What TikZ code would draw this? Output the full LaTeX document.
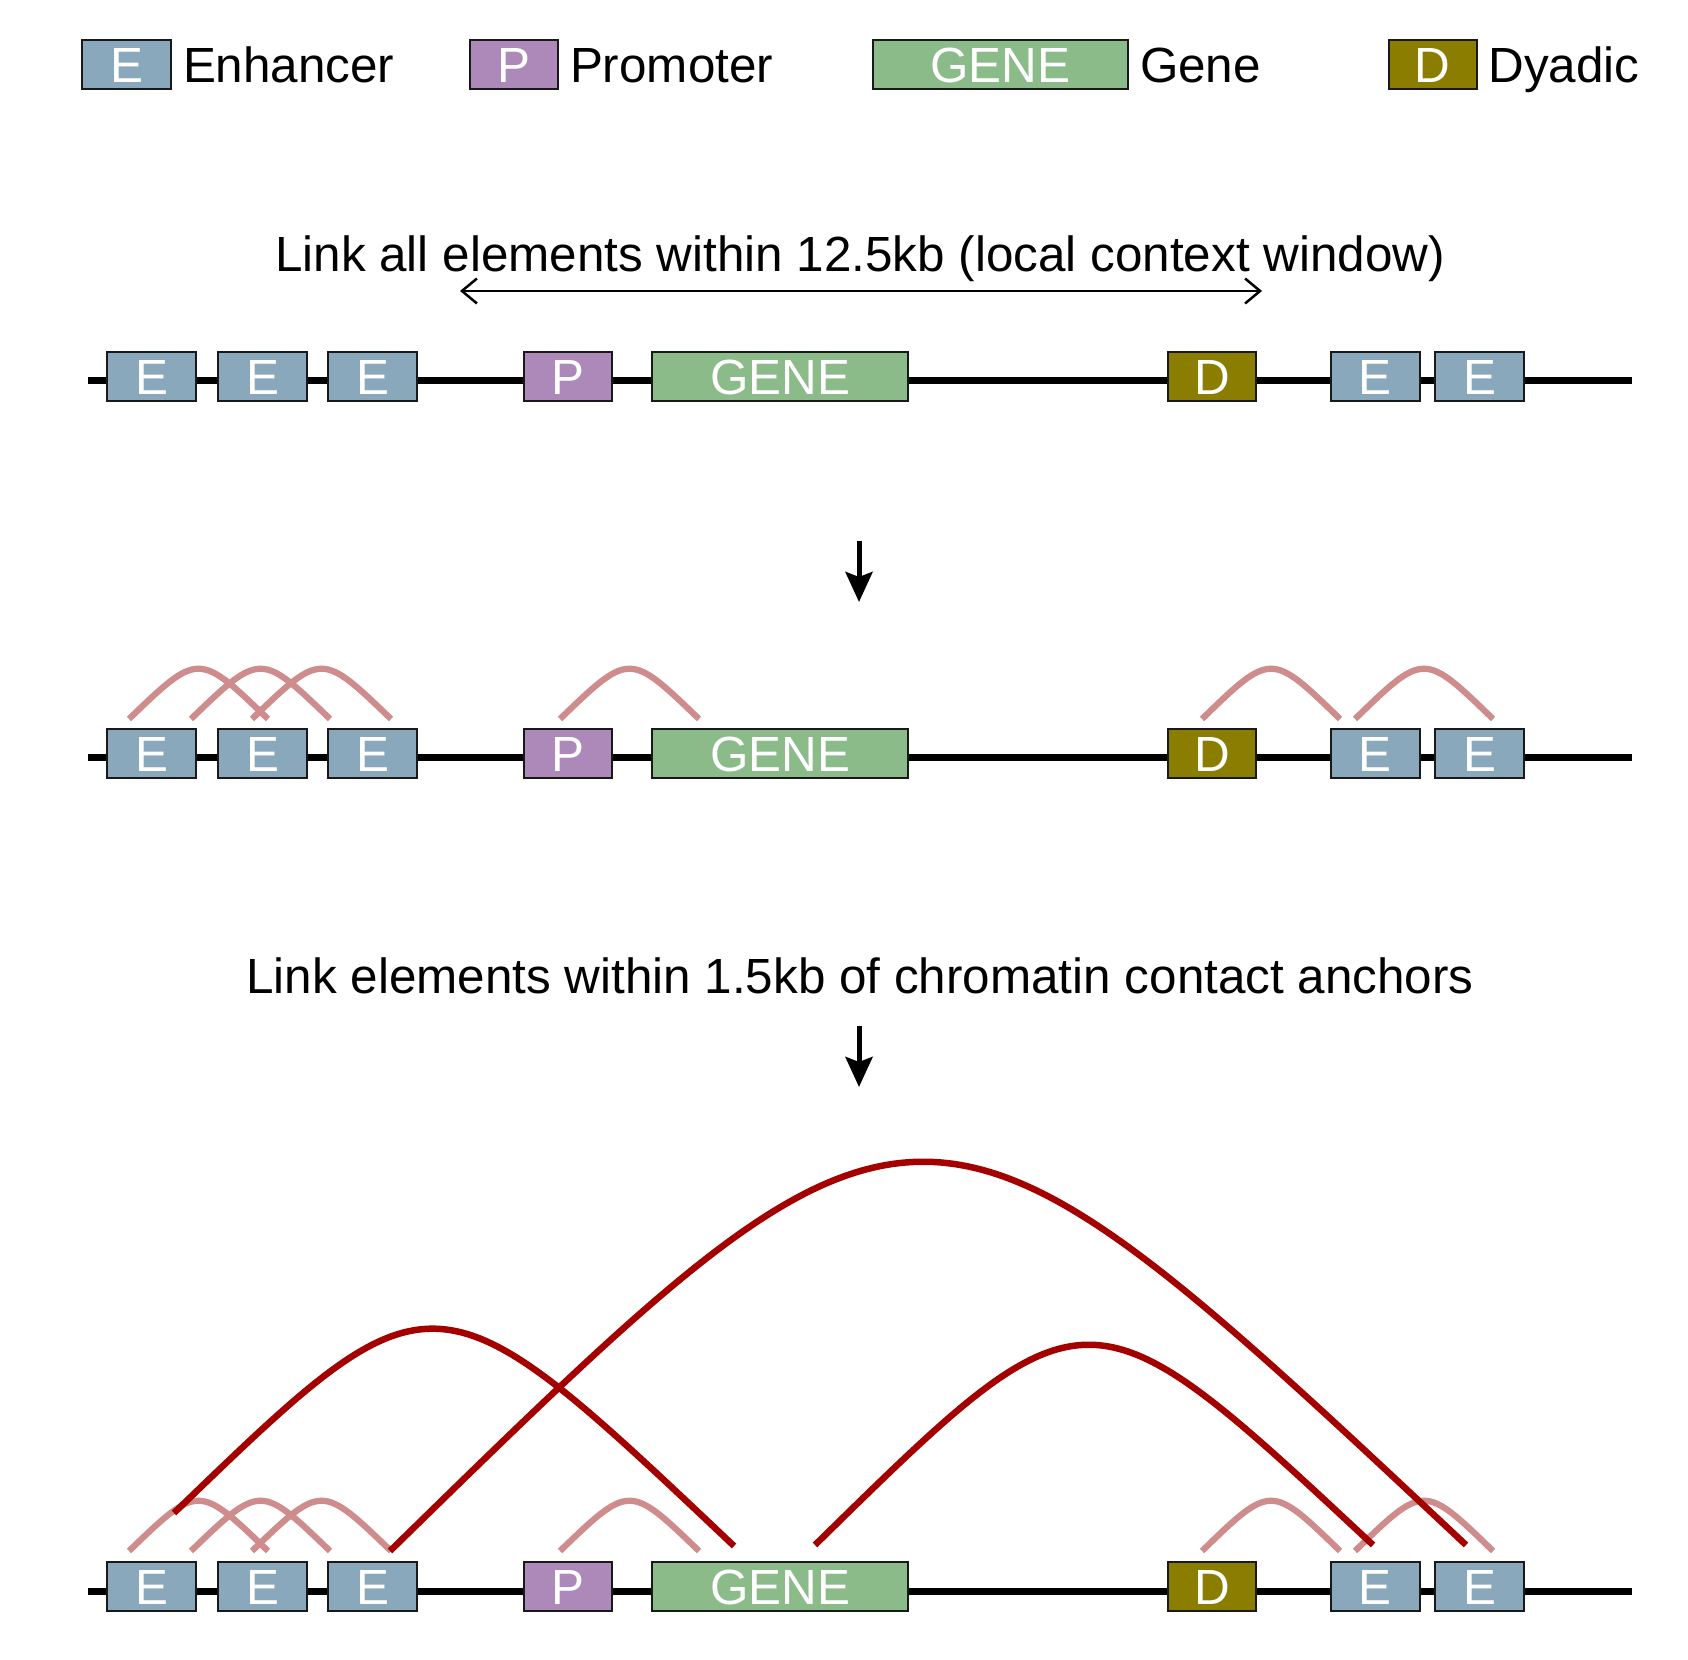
\documentclass[tikz,border=0pt]{standalone}
\usepackage{fontspec}
\setmainfont{Liberation Sans}
\usepackage{tikz}
\usetikzlibrary{positioning, arrows.meta, calc}

\definecolor{enhcol}{RGB}{138,168,188}
\definecolor{procol}{RGB}{173,137,185}
\definecolor{genecol}{RGB}{138,187,136}
\definecolor{dyacol}{RGB}{139,125,0}
\definecolor{shortcol}{RGB}{207,140,140}
\definecolor{longcol}{RGB}{165,0,0}

\begin{document}
\begin{tikzpicture}[x=0.2pt, y=-0.2pt, node distance=2pt,
    every node/.style={font=\fontsize{9.88}{11.9}\selectfont},
    elem/.style={draw=black!90, line width=0.4pt, minimum height=9.8pt, inner sep=0pt,
                 text=white, text height=7.07pt, text depth=0pt},
    enh/.style={elem, fill=enhcol, minimum width=17.8pt},
    pro/.style={elem, fill=procol, minimum width=17.6pt},
    gen/.style={elem, fill=genecol, minimum width=51.2pt},
    dya/.style={elem, fill=dyacol, minimum width=17.6pt},
    legtext/.style={inner sep=0pt, text height=7.07pt, text depth=0pt},
    strand/.style={line width=1.4pt},
    shortlink/.style={draw=shortcol, line width=1.25pt},
    longlink/.style={draw=longcol, line width=1.3pt},
    hump/.style={to path={.. controls ($(\tikztostart)!0.5!(\tikztotarget)+(0,#1)$) .. (\tikztotarget)}}]
    \useasboundingbox (0,0) rectangle (1688,1660);

    % Legend
    \node[enh] (le) at (126.5,65) {E};
    \node[legtext, right=of le] (lte) {Enhancer};
    \node[pro] (lp) at (514,65) {P};
    \node[legtext, right=of lp] (ltp) {Promoter};
    \node[gen, minimum width=51pt] (lg) at (1000.5,65) {GENE};
    \node[legtext, right=of lg] (ltg) {Gene};
    \node[dya] (ld) at (1432.5,65) {D};
    \node[legtext, right=of ld] (ltd) {Dyadic};

    % Captions
    \node[anchor=base] (cap1) at (860,272) {Link all elements within 12.5kb (local context window)};
    \node[anchor=base] (cap2) at (860,993) {Link elements within 1.5kb of chromatin contact anchors};

    % Window and steps
    \coordinate (wl) at (460,291);
    \coordinate (wr) at (1262,291);
    \draw[{Straight Barb[length=3pt,width=5pt]}-{Straight Barb[length=3pt,width=5pt]}, line width=0.5pt] (wl) -- (wr);
    \coordinate (s1a) at (859,541);
    \coordinate (s1b) at (859,602);
    \coordinate (s2a) at (859,1026);
    \coordinate (s2b) at (859,1087);
    \draw[-{Stealth[length=6pt,width=5.4pt,inset=1pt]}, line width=1pt] (s1a) -- (s1b);
    \draw[-{Stealth[length=6pt,width=5.4pt,inset=1pt]}, line width=1pt] (s2a) -- (s2b);

    % Tracks
    \foreach \r/\ly in {1/381, 2/758, 3/1591} {
        \coordinate (tl\r) at (88,\ly);
        \coordinate (tr\r) at (1632,\ly);
        \draw[strand] (tl\r) -- (tr\r);
        \node[enh] (ea\r) at (151.5,\ly-4.5) {E};
        \node[enh] (eb\r) at (262.5,\ly-4.5) {E};
        \node[enh] (ec\r) at (372.5,\ly-4.5) {E};
        \node[pro] (p\r) at (568,\ly-4.5) {P};
        \node[gen] (g\r) at (780,\ly-4.5) {GENE};
        \node[dya] (d\r) at (1212,\ly-4.5) {D};
        \node[enh] (ed\r) at (1375,\ly-4.5) {E};
        \node[enh] (ee\r) at (1479.5,\ly-4.5) {E};
    }

    % Local links
    \foreach \r/\ay in {2/719, 3/1551} {
        \foreach \a/\b [count=\i] in {129/268, 191/330, 252/391, 560/699, 1202/1340, 1355/1493} {
            \coordinate (na\i-\r) at (\a,\ay);
            \coordinate (nb\i-\r) at (\b,\ay);
            \draw[shortlink] (na\i-\r) to[hump=-67] (nb\i-\r);
        }
    }

    % Contact links
    \coordinate (fa1) at (174,1513);
    \coordinate (fa2) at (734,1546);
    \coordinate (fb1) at (390,1551);
    \coordinate (fb2) at (1466,1545);
    \coordinate (fc1) at (815,1545);
    \coordinate (fc2) at (1373,1545);
    \draw[longlink] (fa1) .. controls (434,1262) .. (fa2);
    \draw[longlink] (fb1) .. controls (920,1033) .. (fb2);
    \draw[longlink] (fc1) .. controls (1087,1278) .. (fc2);
\end{tikzpicture}
\end{document}
